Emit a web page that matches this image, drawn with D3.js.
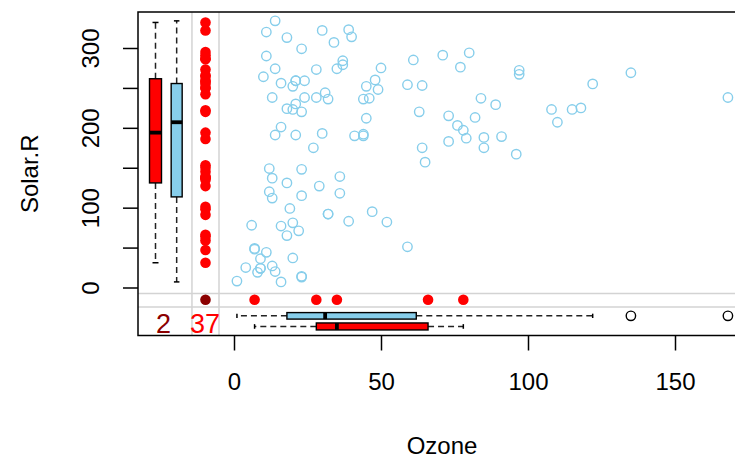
<!DOCTYPE html>
<html><head><meta charset="utf-8">
<script src="https://cdn.jsdelivr.net/npm/d3@7"></script>
<style>body{margin:0;background:#fff}svg{display:block;font-family:"Liberation Sans",Arial,sans-serif}</style>
</head><body>
<script>
// airquality: Ozone and Solar.R (null = missing)
const ozone = [41,36,12,18,null,28,23,19,8,null,
7,16,11,14,18,14,34,6,30,11,
1,11,4,32,null,null,null,23,45,115,
37,null,null,null,null,null,null,29,null,71,
39,null,null,23,null,null,21,37,20,12,
13,null,null,null,null,null,null,null,null,null,
null,135,49,32,null,64,40,77,97,97,
85,null,10,27,null,7,48,35,61,79,
63,16,null,null,80,108,20,52,82,50,
64,59,39,9,16,78,35,66,122,89,
110,null,null,44,28,65,null,22,59,23,
31,44,21,9,null,45,168,73,null,76,
118,84,85,96,78,73,91,47,32,20,
23,21,24,44,21,28,9,13,46,18,
13,24,16,13,23,36,7,14,30,null,
14,18,20];
const solarR = [190,118,149,313,null,null,299,99,19,194,
null,256,290,274,65,334,307,78,322,44,
8,320,25,92,66,266,null,13,252,223,
279,286,287,242,186,220,264,127,273,291,
323,259,250,148,332,322,191,284,37,120,
137,150,59,91,250,135,127,47,98,31,
138,269,248,236,101,175,314,276,267,272,
175,139,264,175,291,48,260,274,285,187,
220,7,258,295,294,223,81,82,213,275,
253,254,83,24,77,null,null,null,255,229,
207,222,137,192,273,157,64,71,51,115,
244,190,259,36,255,212,238,215,153,203,
225,237,188,167,197,183,189,95,92,252,
220,230,259,236,259,238,24,112,237,224,
27,238,201,238,14,139,49,20,193,145,
191,131,223];
const xTicks = [0,50,100,150];
const yTicks = [0,50,100,150,200,250,300];
const yTickLabels = ["0","","100","","200","","300"];
const xTitle = "Ozone", yTitle = "Solar.R";

const W=735,H=460;
const svg=d3.select("body").append("svg").attr("width",W).attr("height",H);
svg.append("rect").attr("width",W).attr("height",H).attr("fill","#fff");

const x=d3.scaleLinear().domain([0,150]).range([234,675]);
const y=d3.scaleLinear().domain([0,300]).range([287.5,48]);
const L=138,T=12,B=335.5,R=746;
const SKY="#87CEEB",RED="#FF0000",DRED="#8B0000",GREY="#D3D3D3";

// positions of the margin elements in data units
const xMissCol=-9.7, xGrid=[-14.3,-5.1], xBoxRed=-26.7, xBoxBlue=-19.5;
const yMissRow=-15.4, yGrid=[-7.5,-24.5], yBoxBlue=-35.5, yBoxRed=-48.8;

const idx=d3.range(ozone.length);
const both=idx.filter(i=>ozone[i]!=null&&solarR[i]!=null);
const missOz=idx.filter(i=>ozone[i]==null&&solarR[i]!=null);
const missSol=idx.filter(i=>ozone[i]!=null&&solarR[i]==null);
const missBoth=idx.filter(i=>ozone[i]==null&&solarR[i]==null);

// grid lines
xGrid.forEach(v=>svg.append("line").attr("x1",x(v)).attr("x2",x(v)).attr("y1",T).attr("y2",B).attr("stroke",GREY).attr("stroke-width",1.5));
yGrid.forEach(v=>svg.append("line").attr("x1",L).attr("x2",R).attr("y1",y(v)).attr("y2",y(v)).attr("stroke",GREY).attr("stroke-width",1.5));

// observed points
svg.append("g").selectAll("circle").data(both).join("circle")
 .attr("cx",i=>x(ozone[i])).attr("cy",i=>y(solarR[i])).attr("r",4.7)
 .attr("fill","none").attr("stroke",SKY).attr("stroke-width",1.4);
// missing in Ozone
svg.append("g").selectAll("circle").data(missOz).join("circle")
 .attr("cx",x(xMissCol)).attr("cy",i=>y(solarR[i])).attr("r",5.3).attr("fill",RED);
// missing in Solar.R
svg.append("g").selectAll("circle").data(missSol).join("circle")
 .attr("cx",i=>x(ozone[i])).attr("cy",y(yMissRow)).attr("r",5.3).attr("fill",RED);
// both missing
svg.append("g").selectAll("circle").data(missBoth.slice(0,1)).join("circle")
 .attr("cx",x(xMissCol)).attr("cy",y(yMissRow)).attr("r",5.3).attr("fill",DRED);

function fivenum(a){const s=a.slice().sort((p,q)=>p-q),n=s.length;const n4=Math.floor((n+3)/2)/2;
 return [1,n4,(n+1)/2,n+1-n4,n].map(d=>0.5*(s[Math.floor(d)-1]+s[Math.ceil(d)-1]));}
function bstats(a){const f=fivenum(a),iqr=f[3]-f[1];const lo=f[1]-1.5*iqr,hi=f[3]+1.5*iqr;
 const inside=a.filter(v=>v>=lo&&v<=hi);
 return {wlo:d3.min(inside),q1:f[1],med:f[2],q3:f[3],whi:d3.max(inside),out:a.filter(v=>v<lo||v>hi)};}

const DASH="6,4", LW=1.5;
function vbox(vals,cx,w,fill){const s=bstats(vals),g=svg.append("g");
 g.append("line").attr("x1",cx).attr("x2",cx).attr("y1",y(s.q3)).attr("y2",y(s.whi)).attr("stroke","#222").attr("stroke-width",LW).attr("stroke-dasharray",DASH);
 g.append("line").attr("x1",cx).attr("x2",cx).attr("y1",y(s.q1)).attr("y2",y(s.wlo)).attr("stroke","#222").attr("stroke-width",LW).attr("stroke-dasharray",DASH);
 [s.whi,s.wlo].forEach(v=>g.append("line").attr("x1",cx-w/4).attr("x2",cx+w/4).attr("y1",y(v)).attr("y2",y(v)).attr("stroke","#000").attr("stroke-width",LW));
 g.append("rect").attr("x",cx-w/2).attr("width",w).attr("y",y(s.q3)).attr("height",y(s.q1)-y(s.q3)).attr("fill",fill).attr("stroke","#000").attr("stroke-width",1.4);
 g.append("line").attr("x1",cx-w/2).attr("x2",cx+w/2).attr("y1",y(s.med)).attr("y2",y(s.med)).attr("stroke","#000").attr("stroke-width",3.8);
 s.out.forEach(v=>g.append("circle").attr("cx",cx).attr("cy",y(v)).attr("r",4.2).attr("fill","none").attr("stroke","#000").attr("stroke-width",1.3));}
function hbox(vals,cy,h,fill){const s=bstats(vals),g=svg.append("g");
 g.append("line").attr("y1",cy).attr("y2",cy).attr("x1",x(s.q3)).attr("x2",x(s.whi)).attr("stroke","#222").attr("stroke-width",LW).attr("stroke-dasharray",DASH);
 g.append("line").attr("y1",cy).attr("y2",cy).attr("x1",x(s.q1)).attr("x2",x(s.wlo)).attr("stroke","#222").attr("stroke-width",LW).attr("stroke-dasharray",DASH);
 [s.whi,s.wlo].forEach(v=>g.append("line").attr("y1",cy-h/3).attr("y2",cy+h/3).attr("x1",x(v)).attr("x2",x(v)).attr("stroke","#000").attr("stroke-width",LW));
 g.append("rect").attr("y",cy-h/2).attr("height",h).attr("x",x(s.q1)).attr("width",x(s.q3)-x(s.q1)).attr("fill",fill).attr("stroke","#000").attr("stroke-width",1.4);
 g.append("line").attr("y1",cy-h/2).attr("y2",cy+h/2).attr("x1",x(s.med)).attr("x2",x(s.med)).attr("stroke","#000").attr("stroke-width",3.8);
 s.out.forEach(v=>g.append("circle").attr("cy",cy).attr("cx",x(v)).attr("r",4.7).attr("fill","none").attr("stroke","#000").attr("stroke-width",1.4));}

vbox(missOz.map(i=>solarR[i]),x(xBoxRed),12,RED);
vbox(both.map(i=>solarR[i]),x(xBoxBlue),11,SKY);
hbox(both.map(i=>ozone[i]),y(yBoxBlue),6.5,SKY);
hbox(missSol.map(i=>ozone[i]),y(yBoxRed),7,RED);

// counts
svg.append("text").attr("x",163.5).attr("y",333).attr("text-anchor","middle").attr("font-size",27).attr("fill",DRED).text(missBoth.length);
svg.append("text").attr("x",205).attr("y",333).attr("text-anchor","middle").attr("font-size",27).attr("fill",RED).text(missOz.length+missBoth.length);

// frame
svg.append("rect").attr("x",L).attr("y",T).attr("width",R-L).attr("height",B-T).attr("fill","none").attr("stroke","#000").attr("stroke-width",1.5);

// axes
const xa=svg.append("g").attr("transform",`translate(0,${B})`).call(d3.axisBottom(x).tickValues(xTicks).tickSize(15).tickPadding(22).tickFormat(d3.format("d")));
xa.select(".domain").remove();
xa.selectAll("line").attr("stroke","#000").attr("stroke-width",1.5);
xa.selectAll("text").attr("font-size",24).attr("fill","#000").attr("font-family","Liberation Sans, Arial, sans-serif");
const ya=svg.append("g").attr("transform",`translate(${L},0)`).call(d3.axisLeft(y).tickValues(yTicks).tickSize(15).tickFormat((d,i)=>yTickLabels[i]));
ya.select(".domain").remove();
ya.selectAll("line").attr("stroke","#000").attr("stroke-width",1.5);
ya.selectAll("text").attr("font-size",24).attr("fill","#000").attr("font-family","Liberation Sans, Arial, sans-serif")
 .attr("x",null).attr("dy",null).attr("text-anchor","middle").attr("transform","translate(-39,0) rotate(-90)");

svg.append("text").attr("x",(L+R)/2).attr("y",454).attr("text-anchor","middle").attr("font-size",24).text(xTitle);
svg.append("text").attr("transform",`translate(38,${(T+B)/2}) rotate(-90)`).attr("text-anchor","middle").attr("font-size",24).text(yTitle);
</script>
</body></html>
